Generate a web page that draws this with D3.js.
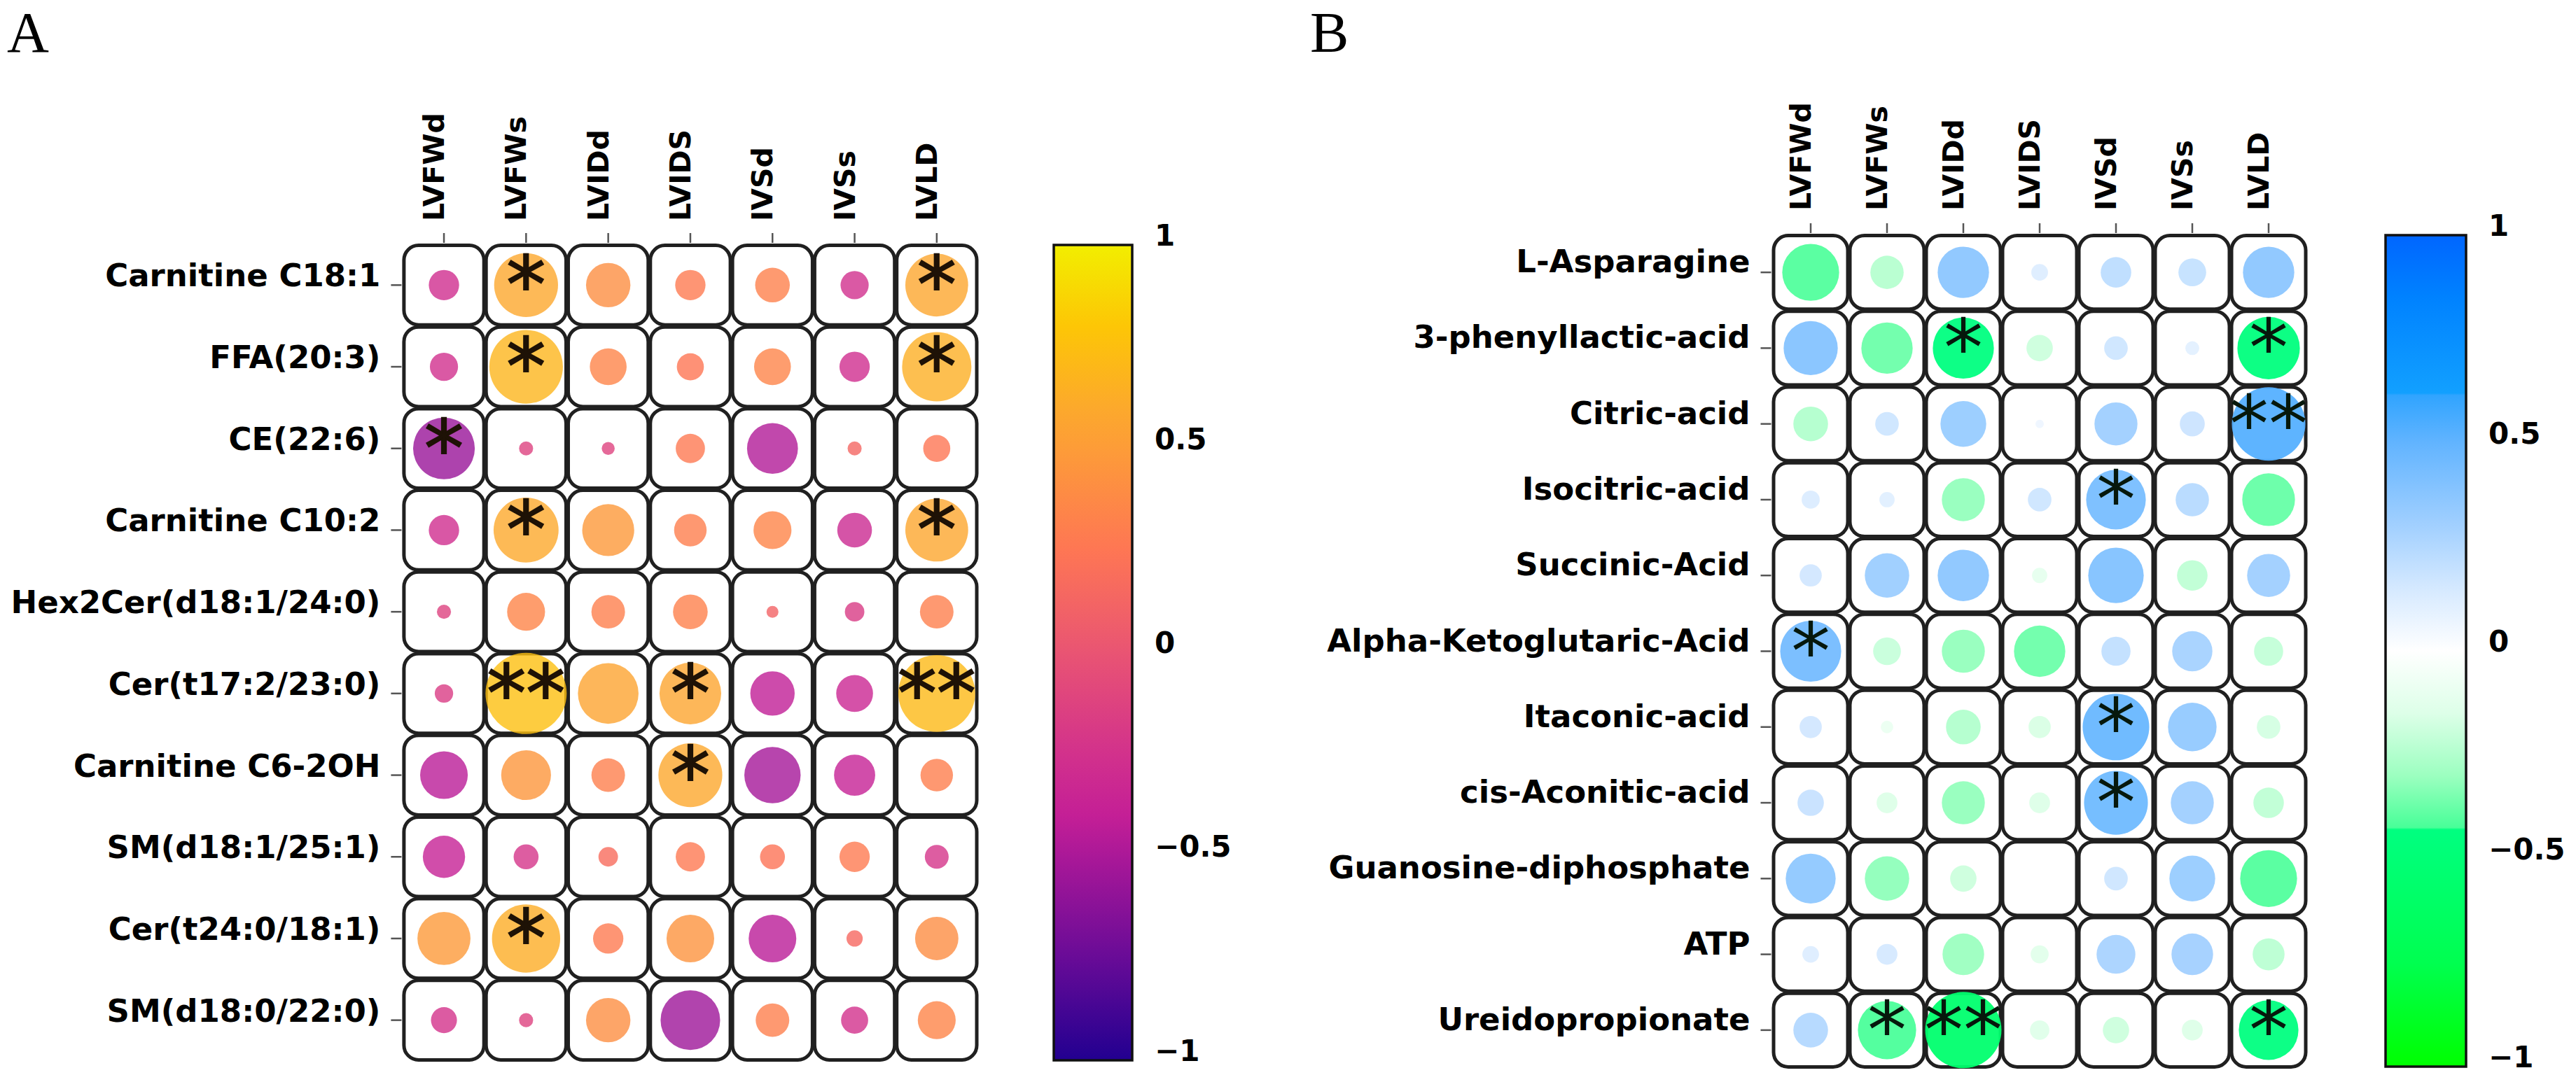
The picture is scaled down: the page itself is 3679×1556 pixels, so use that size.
<!DOCTYPE html>
<html><head><meta charset="utf-8">
<script src="https://cdn.jsdelivr.net/npm/d3@7"></script>
<style>html,body{margin:0;padding:0;background:#fff}svg{display:block}</style>
</head><body>
<svg id="chart"></svg>
<script>
const W = 3679, H = 1556;

// ---------- data ----------
const columns = ["LVFWd", "LVFWs", "LVIDd", "LVIDS", "IVSd", "IVSs", "LVLD"];

const rowsA = ["Carnitine C18:1", "FFA(20:3)", "CE(22:6)", "Carnitine C10:2", "Hex2Cer(d18:1/24:0)",
  "Cer(t17:2/23:0)", "Carnitine C6-2OH", "SM(d18:1/25:1)", "Cer(t24:0/18:1)", "SM(d18:0/22:0)"];
const valuesA = [
  [-0.28, 0.59, 0.41, 0.28, 0.32, -0.26, 0.58],
  [-0.26, 0.68, 0.34, 0.25, 0.34, -0.28, 0.64],
  [-0.57, -0.13, -0.12, 0.27, -0.47, 0.13, 0.25],
  [-0.28, 0.60, 0.48, 0.30, 0.35, -0.32, 0.58],
  [-0.13, 0.35, 0.31, 0.32, 0.11, -0.18, 0.31],
  [-0.17, 0.75, 0.56, 0.57, -0.41, -0.34, 0.71],
  [-0.44, 0.46, 0.31, 0.59, -0.52, -0.38, 0.30],
  [-0.39, -0.23, 0.18, 0.27, 0.23, 0.28, -0.22],
  [0.49, 0.63, 0.28, 0.44, -0.44, 0.15, 0.40],
  [-0.24, -0.13, 0.41, -0.55, 0.31, -0.25, 0.35]
];
const sigA = [
  ["", "*", "", "", "", "", "*"],
  ["", "*", "", "", "", "", "*"],
  ["*", "", "", "", "", "", ""],
  ["", "*", "", "", "", "", "*"],
  ["", "", "", "", "", "", ""],
  ["", "**", "", "*", "", "", "**"],
  ["", "", "", "*", "", "", ""],
  ["", "", "", "", "", "", ""],
  ["", "*", "", "", "", "", ""],
  ["", "", "", "", "", "", ""]
];

const rowsB = ["L-Asparagine", "3-phenyllactic-acid", "Citric-acid", "Isocitric-acid", "Succinic-Acid",
  "Alpha-Ketoglutaric-Acid", "Itaconic-acid", "cis-Aconitic-acid", "Guanosine-diphosphate", "ATP", "Ureidopropionate"];
const valuesB = [
  [-0.41, -0.24, 0.37, 0.12, 0.22, 0.20, 0.37],
  [0.39, -0.37, -0.44, -0.19, 0.17, 0.10, -0.45],
  [-0.25, 0.17, 0.33, 0.06, 0.31, 0.18, 0.53],
  [0.13, 0.11, -0.31, 0.17, 0.43, 0.24, -0.38],
  [0.16, 0.32, 0.37, -0.11, 0.40, -0.22, 0.31],
  [0.44, -0.20, -0.31, -0.37, 0.21, 0.29, -0.21],
  [0.16, -0.09, -0.25, -0.16, 0.48, 0.35, -0.17],
  [0.19, -0.15, -0.31, -0.15, 0.46, 0.31, -0.22],
  [0.36, -0.32, -0.19, 0.00, 0.17, 0.33, -0.41],
  [0.12, 0.15, -0.30, -0.13, 0.28, 0.30, -0.23],
  [0.25, -0.42, -0.55, -0.14, -0.19, -0.15, -0.43]
];
const sigB = [
  ["", "", "", "", "", "", ""],
  ["", "", "*", "", "", "", "*"],
  ["", "", "", "", "", "", "**"],
  ["", "", "", "", "*", "", ""],
  ["", "", "", "", "", "", ""],
  ["*", "", "", "", "", "", ""],
  ["", "", "", "", "*", "", ""],
  ["", "", "", "", "*", "", ""],
  ["", "", "", "", "", "", ""],
  ["", "", "", "", "", "", ""],
  ["", "*", "**", "", "", "", "*"]
];

const colorbarTicks = [1, 0.5, 0, -0.5, -1];
const colorbarTickLabels = ["1", "0.5", "0", "\u22120.5", "\u22121"];

// colour maps
const cmapAValues = [-1, -0.75, -0.5, -0.4, -0.25, 0, 0.25, 0.5, 0.6, 0.8, 1];
const cmapAColors = ["#220090", "#680B97", "#AA1898", "#C41F96", "#D2318C", "#E95473", "#FE7654", "#FD9C38", "#FCA92C", "#FDC606", "#F2EE00"];
const cmapBValues = [-1, -0.75, -0.43, -0.425, -0.3, -0.15, 0, 0.15, 0.3, 0.5, 0.615, 0.62, 0.85, 1];
const cmapBColors = ["#00FF00", "#00FF50", "#00FF80", "#48FF98", "#9CFFC0", "#DDFFE8", "#FFFFFF", "#D5E9FF", "#A2D0FF", "#62B4FF", "#30A4FF", "#12A0FF", "#0082FF", "#0066FF"];

// ---------- drawing ----------
const svg = d3.select("#chart").attr("width", W).attr("height", H)
  .attr("viewBox", `0 0 ${W} ${H}`);
svg.append("rect").attr("width", W).attr("height", H).attr("fill", "#fff");
const defs = svg.append("defs");

function drawPanel(cfg) {
  const g = svg.append("g");
  const x = d3.scaleBand().domain(columns).range([cfg.x0, cfg.x1]);
  const y = d3.scaleBand().domain(cfg.rows).range([cfg.y0, cfg.y1]);
  const color = d3.scaleLinear().domain(cfg.cmapValues).range(cfg.cmapColors)
    .interpolate(d3.interpolateRgb).clamp(true);
  const r = d3.scaleLinear().domain([0, cfg.vmax]).range([0, cfg.rmax]);

  const cells = [];
  cfg.rows.forEach((row, i) => columns.forEach((col, j) => {
    cells.push({row, col, v: cfg.values[i][j], s: cfg.sig[i][j]});
  }));

  const inset = 1.5;
  g.append("g").selectAll("rect").data(cells).join("rect")
    .attr("x", d => x(d.col) + inset)
    .attr("y", d => y(d.row) + inset)
    .attr("width", x.bandwidth() - 2 * inset)
    .attr("height", y.bandwidth() - 2 * inset)
    .attr("rx", 21).attr("ry", 21)
    .attr("fill", "#fff").attr("stroke", "#202020").attr("stroke-width", 5);

  g.append("g").selectAll("circle").data(cells).join("circle")
    .attr("cx", d => x(d.col) + x.bandwidth() / 2)
    .attr("cy", d => y(d.row) + y.bandwidth() / 2)
    .attr("r", d => r(Math.abs(d.v)))
    .attr("fill", d => color(d.v))
    .attr("fill-opacity", cfg.opacity);

  g.append("g").selectAll("text").data(cells.filter(d => d.s)).join("text")
    .attr("x", d => x(d.col) + x.bandwidth() / 2)
    .attr("y", d => y(d.row) + y.bandwidth() / 2)
    .attr("text-anchor", "middle").attr("dominant-baseline", "central")
    .attr("font-family", "DejaVu Sans").attr("font-size", cfg.starSize)
    .attr("fill", cfg.starColor)
    .attr("stroke", cfg.starColor).attr("stroke-width", cfg.starStroke)
    .text(d => d.s);

  // column ticks + labels
  g.append("g").selectAll("line").data(columns).join("line")
    .attr("x1", d => x(d) + x.bandwidth() / 2).attr("x2", d => x(d) + x.bandwidth() / 2)
    .attr("y1", cfg.y0 - 16).attr("y2", cfg.y0 - 2)
    .attr("stroke", "#555").attr("stroke-width", 2.5);
  g.append("g").selectAll("text").data(columns).join("text")
    .attr("transform", d => `translate(${x(d) + x.bandwidth() / 2},${cfg.colLabelY}) rotate(-90)`)
    .attr("text-anchor", "start")
    .attr("font-family", "DejaVu Sans").attr("font-weight", "bold").attr("font-size", 41)
    .attr("fill", "#000").text(d => d);

  // row ticks + labels
  g.append("g").selectAll("line").data(cfg.rows).join("line")
    .attr("x1", cfg.x0 - 17).attr("x2", cfg.x0 - 2)
    .attr("y1", d => y(d) + y.bandwidth() / 2).attr("y2", d => y(d) + y.bandwidth() / 2)
    .attr("stroke", "#555").attr("stroke-width", 2.5);
  g.append("g").selectAll("text").data(cfg.rows).join("text")
    .attr("x", cfg.x0 - 32)
    .attr("y", d => y(d) + y.bandwidth() / 2 + cfg.rowLabelDy)
    .attr("text-anchor", "end")
    .attr("font-family", "DejaVu Sans").attr("font-weight", "bold").attr("font-size", 45)
    .attr("fill", "#000").text(d => d);

  // colour bar
  const gradId = "grad" + cfg.id;
  const grad = defs.append("linearGradient").attr("id", gradId)
    .attr("x1", 0).attr("y1", 0).attr("x2", 0).attr("y2", 1);
  const stops = cfg.cmapValues.map((v, k) => ({v, c: cfg.cmapColors[k]})).reverse();
  grad.selectAll("stop").data(stops).join("stop")
    .attr("offset", d => ((1 - d.v) / 2 * 100) + "%")
    .attr("stop-color", d => d.c);
  const cb = cfg.cb;
  const cbScale = d3.scaleLinear().domain([-1, 1]).range([cb.y1, cb.y0]);
  g.append("rect").attr("x", cb.x0).attr("y", cb.y0)
    .attr("width", cb.x1 - cb.x0).attr("height", cb.y1 - cb.y0)
    .attr("fill", `url(#${gradId})`).attr("stroke", "#111").attr("stroke-width", 3.5);
  g.append("g").selectAll("text").data(colorbarTicks).join("text")
    .attr("x", cb.x1 + 32)
    .attr("y", d => cbScale(d) - 14)
    .attr("dominant-baseline", "central")
    .attr("font-family", "DejaVu Sans").attr("font-weight", "bold").attr("font-size", 42)
    .attr("fill", "#000")
    .text((d, k) => colorbarTickLabels[k]);

  // panel letter
  svg.append("text").attr("x", cfg.letterX).attr("y", 74)
    .attr("font-family", "Liberation Serif").attr("font-size", 83)
    .attr("fill", "#000").text(cfg.letter);
}

drawPanel({
  id: "A", letter: "A", letterX: 10,
  rows: rowsA, values: valuesA, sig: sigA,
  x0: 575.4, x1: 1396.5, y0: 349, y1: 1516,
  colLabelY: 316, rowLabelDy: 2,
  cmapValues: cmapAValues, cmapColors: cmapAColors, opacity: 0.8,
  vmax: 0.75, rmax: 58,
  starSize: 112, starColor: "#1e1206", starStroke: 2,
  cb: {x0: 1505, x1: 1617, y0: 350, y1: 1515}
});
drawPanel({
  id: "B", letter: "B", letterX: 1871,
  rows: rowsB, values: valuesB, sig: sigB,
  x0: 2531.5, x1: 3294.5, y0: 335, y1: 1526,
  colLabelY: 301, rowLabelDy: 0,
  cmapValues: cmapBValues, cmapColors: cmapBColors, opacity: 0.95,
  vmax: 0.55, rmax: 54.5,
  starSize: 112, starColor: "#06180c", starStroke: 0,
  cb: {x0: 3407, x1: 3522, y0: 336, y1: 1524}
});
</script>
</body></html>
